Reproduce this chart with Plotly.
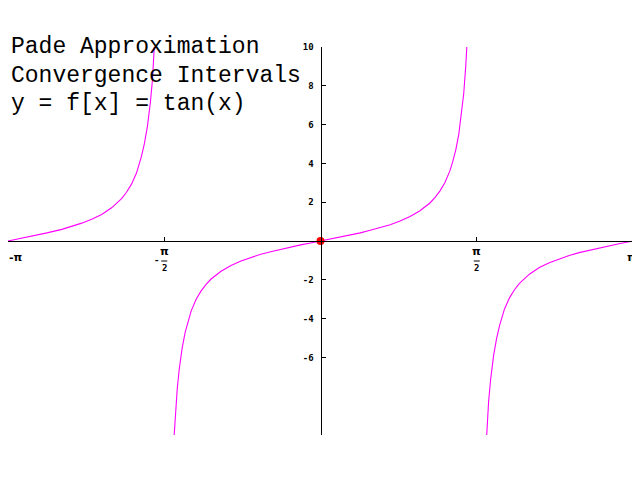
import plotly.graph_objects as go

# --- data ---
# left branch (x from -pi up to the top edge)
left_x = [-3.1416, -3.0, -2.9, -2.75, -2.6, -2.5, -2.4, -2.3, -2.2, -2.1, -2.0, -1.95, -1.9, -1.85, -1.8, -1.77, -1.74, -1.71, -1.69, -1.671]
left_y = [0.0, 0.14, 0.25, 0.42, 0.60, 0.75, 0.92, 1.12, 1.37, 1.71, 2.18, 2.51, 2.93, 3.50, 4.36, 5.03, 5.91, 7.15, 8.27, 10.0]

# middle branch (bottom edge to top edge)
mid_x = [-1.471, -1.46, -1.44, -1.42, -1.39, -1.36, -1.33, -1.3, -1.25, -1.2, -1.15, -1.1, -1.0, -0.9, -0.8, -0.7, -0.6, -0.5, -0.4, -0.3, -0.2, -0.1, 0.0,
         0.1, 0.2, 0.3, 0.4, 0.5, 0.6, 0.7, 0.8, 0.9, 1.0, 1.1, 1.15, 1.2, 1.25, 1.3, 1.33, 1.36, 1.39, 1.42, 1.44, 1.46, 1.471]
mid_y = [-10.0, -9.0, -7.6, -6.6, -5.5, -4.7, -4.1, -3.6, -3.0, -2.57, -2.24, -1.96, -1.56, -1.26, -1.03, -0.84, -0.68, -0.55, -0.42, -0.31, -0.20, -0.10, 0.0,
         0.10, 0.20, 0.31, 0.42, 0.55, 0.68, 0.84, 1.03, 1.26, 1.56, 1.96, 2.24, 2.57, 3.0, 3.6, 4.1, 4.7, 5.5, 6.6, 7.6, 9.0, 10.0]

# right branch (bottom edge up to pi)
right_x = [1.671, 1.69, 1.71, 1.74, 1.77, 1.8, 1.85, 1.9, 1.95, 2.0, 2.1, 2.2, 2.3, 2.4, 2.5, 2.6, 2.75, 2.9, 3.0, 3.1416]
right_y = [-10.0, -8.27, -7.15, -5.91, -5.03, -4.36, -3.50, -2.93, -2.51, -2.18, -1.71, -1.37, -1.12, -0.92, -0.75, -0.60, -0.42, -0.25, -0.14, 0.0]

# highlighted point
pt_x = [0.0]
pt_y = [0.0]

# ticks
PI = 3.141592653589793
x_tick_vals = [-PI, -PI / 2, PI / 2, PI]
x_tick_sign = ["-", "-", "", ""]
x_tick_num = ["π", "π", "π", "π"]
x_tick_den = ["", "2", "2", ""]
y_tick_vals = [-6, -4, -2, 2, 4, 6, 8, 10]
y_tick_text = ["-6", "-4", "-2", "2", "4", "6", "8", "10"]

title_lines = ["Pade Approximation", "Convergence Intervals", "y = f[x] = tan(x)"]

MAG = "#ff00ff"
fig = go.Figure()
for xs, ys in [(left_x, left_y), (mid_x, mid_y), (right_x, right_y)]:
    fig.add_trace(go.Scatter(x=xs, y=ys, mode="lines",
                             line=dict(color=MAG, width=1.1), hoverinfo="skip"))
fig.add_trace(go.Scatter(x=pt_x, y=pt_y, mode="markers",
                         marker=dict(color="#ff0000", size=8), hoverinfo="skip"))

tickfont = dict(family="DejaVu Sans Mono", size=9, color="black", weight="bold")
pifont = dict(family="DejaVu Sans", size=11, color="black", weight="bold")

annotations = []
shapes = []
n_ticks = len(x_tick_vals)
for i, (v, s, n, d) in enumerate(zip(x_tick_vals, x_tick_sign, x_tick_num, x_tick_den)):
    if d:
        annotations.append(dict(x=v, y=0, xref="x", yref="y", text=n, showarrow=False,
                                font=pifont, yshift=-10))
        shapes.append(dict(type="line", xref="x", yref="y", xsizemode="pixel", ysizemode="pixel",
                           xanchor=v, yanchor=0, x0=-3, x1=3, y0=-20, y1=-20,
                           line=dict(color="black", width=1)))
        annotations.append(dict(x=v, y=0, xref="x", yref="y", text=d, showarrow=False,
                                font=tickfont, yshift=-27))
        if s:
            annotations.append(dict(x=v, y=0, xref="x", yref="y", text=s, showarrow=False,
                                    font=tickfont, xshift=-8, yshift=-19))
    else:
        if i == 0:
            anchor, shift = "left", -1
        elif i == n_ticks - 1:
            anchor, shift = "right", 5
        else:
            anchor, shift = "center", 0
        annotations.append(dict(x=v, y=0, xref="x", yref="y",
                                text=(s + n), showarrow=False, xanchor=anchor, xshift=shift,
                                font=pifont, yshift=-16))

for i, line in enumerate(title_lines):
    annotations.append(dict(x=0, y=1 - i * 0.0735, xref="paper", yref="paper",
                            xanchor="left", yanchor="middle", xshift=1,
                            text=line, showarrow=False,
                            font=dict(family="Liberation Mono", size=23, color="black")))

fig.update_layout(
    width=632, height=464,
    margin=dict(l=0, r=7, t=39, b=37),
    paper_bgcolor="white", plot_bgcolor="white",
    showlegend=False,
    annotations=annotations,
    shapes=shapes,
    xaxis=dict(range=[-PI, PI], anchor="free", position=0.5,
               showgrid=False, zeroline=False, showline=True, linecolor="black", linewidth=1,
               ticks="inside", ticklen=4, tickcolor="black", tickvals=x_tick_vals,
               showticklabels=False),
    yaxis=dict(range=[-10, 10], anchor="free", position=0.5,
               showgrid=False, zeroline=False, showline=True, linecolor="black", linewidth=1,
               ticks="inside", ticklen=4, tickcolor="black", tickvals=y_tick_vals,
               ticktext=y_tick_text, tickfont=tickfont, ticklabelstandoff=5),
)

fig.write_html("out.html")
